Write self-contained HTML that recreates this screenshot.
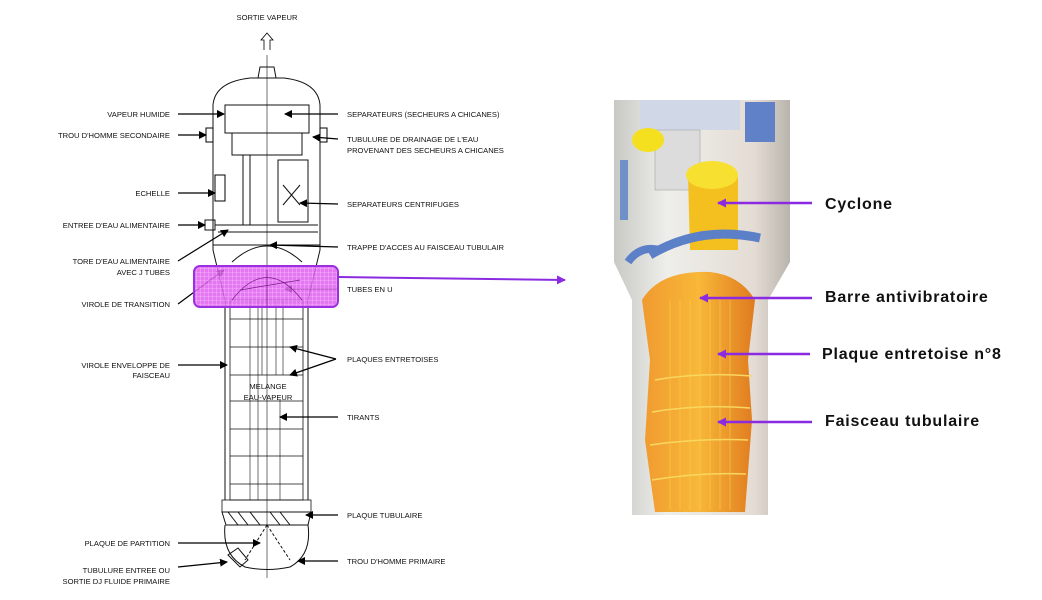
<!DOCTYPE html>
<html><head><meta charset="utf-8"><style>
html,body{margin:0;padding:0;background:#fff;width:1042px;height:600px;overflow:hidden}
svg{display:block}
.l{font-family:"Liberation Sans",sans-serif;font-size:7.6px;fill:#111}
.r{font-family:"Liberation Sans",sans-serif;font-size:16px;font-weight:bold;fill:#111;letter-spacing:0.8px}
</style></head><body>
<svg width="1042" height="600" viewBox="0 0 1042 600" xmlns="http://www.w3.org/2000/svg">
<defs>
<marker id="a" markerWidth="8" markerHeight="8" refX="7" refY="4" orient="auto" markerUnits="userSpaceOnUse"><path d="M0,0 L8,4 L0,8 z" fill="#000"/></marker>
<marker id="p" markerWidth="9" markerHeight="9" refX="8" refY="4.5" orient="auto" markerUnits="userSpaceOnUse"><path d="M0,0 L9,4.5 L0,9 z" fill="#8a2be2"/></marker>
<pattern id="g" width="4" height="4" patternUnits="userSpaceOnUse"><rect width="4" height="4" fill="#e060f0"/><path d="M0,0H4M0,0V4" stroke="#f6b0ff" stroke-width="0.8"/></pattern>
<linearGradient id="sh" x1="0" x2="1"><stop offset="0" stop-color="#c8c8c4"/><stop offset=".3" stop-color="#eeeeea"/><stop offset=".8" stop-color="#e4dcd4"/><stop offset="1" stop-color="#b8b4ac"/></linearGradient>
<linearGradient id="or" x1="0" x2="1"><stop offset="0" stop-color="#f09a30"/><stop offset=".5" stop-color="#f8b838"/><stop offset="1" stop-color="#e07a20"/></linearGradient>
</defs>

<!-- LEFT DRAWING -->
<text class="l" x="267" y="20" text-anchor="middle">SORTIE VAPEUR</text>
<path d="M264,50 V40 H261 L267,33 L273,40 H270 V50" fill="#fff" stroke="#000" stroke-width="0.8"/>
<g fill="none" stroke="#111" stroke-width="1">
<path d="M258,78 L260,67 H274 L276,78"/>
<path d="M213,105 Q215,82 250,78 H284 Q318,82 320,105 V250 L308,300 V500 M213,105 V250 L225,300 V500"/>
<rect x="225" y="105" width="84" height="28"/><rect x="232" y="133" width="70" height="22"/>
<line x1="267" y1="55" x2="267" y2="578" stroke-width="0.6"/>
<line x1="243" y1="155" x2="243" y2="225"/><line x1="250" y1="155" x2="250" y2="225"/>
<rect x="278" y="160" width="30" height="62"/>
<path d="M283,185 L300,205 M300,185 L283,205"/>
<rect x="205" y="220" width="10" height="10"/><line x1="215" y1="225" x2="318" y2="225"/>
<line x1="218" y1="232" x2="318" y2="232"/>
<path d="M232,262 Q267,230 302,262"/>
<line x1="213" y1="245" x2="320" y2="245"/>
<rect x="230" y="300" width="73" height="200" stroke-width="0.8"/>
<path d="M230,319H303M230,347H303M230,375H303M230,401H303M230,429H303M230,456H303M230,484H303" stroke-width="0.8"/>
<path d="M250,300V500M258,300V500M262,300V375M276,300V375M283,300V375M250,400V500M280,400V500" stroke-width="0.6"/>
<rect x="222" y="500" width="89" height="12" stroke-width="0.8"/>
<path d="M222,512 H311 L308,525 H226 Z"/>
<path d="M228,512L238,525M238,512L248,525M250,512L260,525M270,512L280,525M280,512L290,525"/>
<path d="M225,525 Q222,555 245,567 Q267,572 290,567 Q312,555 308,525"/>
<path d="M267,525 L245,560 M267,525 L290,560" stroke-dasharray="3,2"/>
<path d="M228,555 L240,567 L248,560 L238,548 Z"/>
</g>
<rect x="206" y="128" width="7" height="14" fill="#fff" stroke="#000"/>
<rect x="320" y="128" width="7" height="14" fill="#fff" stroke="#000"/>
<rect x="215" y="175" width="10" height="26" fill="#fff" stroke="#000"/>

<text class="l" x="268" y="389" text-anchor="middle">MELANGE</text>
<text class="l" x="268" y="400" text-anchor="middle">EAU-VAPEUR</text>

<g stroke="#000" stroke-width="1.2" marker-end="url(#a)">
<line x1="178" y1="114" x2="224" y2="114"/>
<line x1="178" y1="135" x2="206" y2="135"/>
<line x1="178" y1="193" x2="215" y2="193"/>
<line x1="178" y1="225" x2="205" y2="225"/>
<line x1="178" y1="261" x2="228" y2="230"/>
<line x1="178" y1="304" x2="224" y2="270"/>
<line x1="178" y1="365" x2="227" y2="365"/>
<line x1="178" y1="543" x2="260" y2="543"/>
<line x1="178" y1="567" x2="227" y2="562"/>
<line x1="338" y1="114" x2="285" y2="114"/>
<line x1="338" y1="139" x2="313" y2="137"/>
<line x1="338" y1="204" x2="300" y2="203"/>
<line x1="338" y1="247" x2="270" y2="245"/>
<line x1="338" y1="289" x2="285" y2="289"/>
<line x1="336" y1="359" x2="290" y2="347"/>
<line x1="336" y1="359" x2="290" y2="375"/>
<line x1="338" y1="417" x2="280" y2="417"/>
<line x1="338" y1="515" x2="306" y2="515"/>
<line x1="338" y1="561" x2="298" y2="561"/>
</g>

<g class="l" text-anchor="end">
<text x="170" y="117">VAPEUR HUMIDE</text>
<text x="170" y="138">TROU D'HOMME SECONDAIRE</text>
<text x="170" y="196">ECHELLE</text>
<text x="170" y="228">ENTREE D'EAU ALIMENTAIRE</text>
<text x="170" y="264">TORE D'EAU ALIMENTAIRE</text>
<text x="170" y="275">AVEC J TUBES</text>
<text x="170" y="307">VIROLE DE TRANSITION</text>
<text x="170" y="368">VIROLE ENVELOPPE DE</text>
<text x="170" y="378">FAISCEAU</text>
<text x="170" y="546">PLAQUE DE PARTITION</text>
<text x="170" y="573">TUBULURE ENTREE OU</text>
<text x="170" y="584">SORTIE DJ FLUIDE PRIMAIRE</text>
</g>
<g class="l">
<text x="347" y="117">SEPARATEURS (SECHEURS A CHICANES)</text>
<text x="347" y="142">TUBULURE DE DRAINAGE DE L'EAU</text>
<text x="347" y="153">PROVENANT DES SECHEURS A CHICANES</text>
<text x="347" y="207">SEPARATEURS CENTRIFUGES</text>
<text x="347" y="250">TRAPPE D'ACCES AU FAISCEAU TUBULAIR</text>
<text x="347" y="292">TUBES EN U</text>
<text x="347" y="362">PLAQUES ENTRETOISES</text>
<text x="347" y="420">TIRANTS</text>
<text x="347" y="518">PLAQUE TUBULAIRE</text>
<text x="347" y="564">TROU D'HOMME PRIMAIRE</text>
</g>

<!-- purple highlight -->
<rect x="194" y="266" width="144" height="41" rx="6" fill="url(#g)" fill-opacity="0.85" stroke="#9b30e0" stroke-width="2"/>
<path d="M232,300 Q267,255 302,300 M267,270V307 M240,290 L300,280" fill="none" stroke="#7a1a8a" stroke-width="0.7"/>
<line x1="338" y1="277" x2="565" y2="280" stroke="#8a2be2" stroke-width="2" marker-end="url(#p)"/>

<!-- RIGHT IMAGE -->
<path d="M614,100 H790 V262 L768,300 V515 H632 V300 L614,262 Z" fill="url(#sh)"/>
<rect x="640" y="100" width="100" height="30" fill="#d0d8e8"/>
<rect x="745" y="102" width="30" height="40" fill="#6080c8"/>
<rect x="655" y="130" width="45" height="60" fill="#dcdcdc" stroke="#999" stroke-width="0.5"/>
<rect x="620" y="160" width="8" height="60" fill="#7090c8"/>
<ellipse cx="648" cy="140" rx="16" ry="12" fill="#f5e020"/>
<path d="M688,175 Q712,150 738,175 V250 H690 Z" fill="#f4c020"/>
<ellipse cx="712" cy="175" rx="26" ry="14" fill="#f8e030"/>
<path d="M628,262 Q640,245 660,250" fill="none" stroke="#5c80c8" stroke-width="8"/>
<path d="M650,255 Q700,225 760,238" fill="none" stroke="#5c80c8" stroke-width="9"/>
<path d="M642,300 Q660,270 710,272 Q740,275 755,300 L748,360 L752,420 L745,512 H655 L645,440 L650,360 Z" fill="url(#or)"/>
<g stroke="#f8d860" stroke-width="1.5" fill="none">
<path d="M655,380 Q700,372 752,376M652,412 Q700,404 750,408M650,445 Q700,438 748,440M652,480 Q700,472 746,474"/>
</g>
<g stroke="#f8d050" stroke-width="0.8" opacity=".7">
<path d="M670,300V510M680,300V510M690,300V510M700,300V510M710,300V510M720,300V510M730,300V510"/>
</g>

<g stroke="#8a2be2" stroke-width="2.5" marker-end="url(#p)">
<line x1="812" y1="203" x2="718" y2="203"/>
<line x1="812" y1="298" x2="700" y2="298"/>
<line x1="810" y1="354" x2="718" y2="354"/>
<line x1="812" y1="422" x2="718" y2="422"/>
</g>
<text class="r" x="825" y="209">Cyclone</text>
<text class="r" x="825" y="302">Barre antivibratoire</text>
<text class="r" x="822" y="359">Plaque entretoise n°8</text>
<text class="r" x="825" y="426">Faisceau tubulaire</text>
</svg>
</body></html>
